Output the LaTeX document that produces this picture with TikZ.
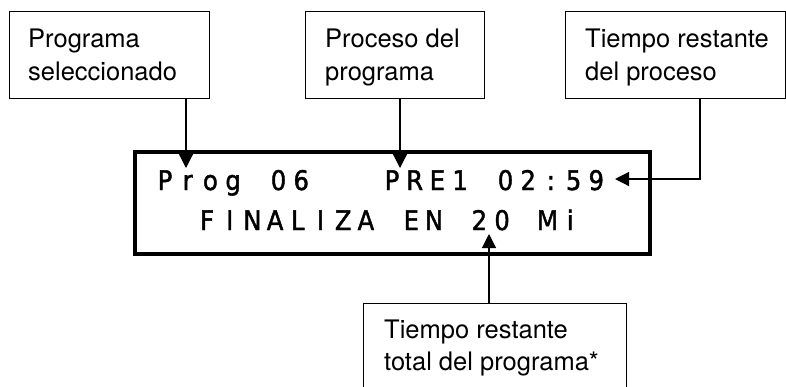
\documentclass[tikz,border=0pt]{standalone}
\usepackage{fontspec}
\setmainfont{TeX Gyre Heros}
\newfontfamily\lcdfont{DejaVu Sans Condensed}[FakeBold=1.6]
\usetikzlibrary{arrows.meta}
\begin{document}
\begin{tikzpicture}[x=1pt,y=-1pt,
  lbl/.style={draw, line width=1.2pt, inner sep=0pt, anchor=north west},
  lbltxt/.style={anchor=base west, inner sep=0pt, font=\fontsize{25.5}{30}\selectfont},
  lcd/.style={anchor=base, inner sep=0pt, font=\lcdfont\fontsize{27}{30}\selectfont},
  disp/.style={draw, line width=4.3pt, inner sep=0pt, anchor=north west},
  arr/.style={line width=1.2pt, -{Triangle[width=14pt,length=14pt]}}]
\useasboundingbox (0,0) rectangle (786,386);
\clip (0,0) rectangle (786,386);
% label boxes
\node[lbl, minimum width=200pt, minimum height=87pt] (b1) at (9,11) {};
\node[lbl, minimum width=179pt, minimum height=87pt] (b2) at (305,11) {};
\node[lbl, minimum width=220pt, minimum height=87pt] (b3) at (565,11) {};
\node[lbl, minimum width=263pt, minimum height=110pt] (b4) at (363,303) {};
% label texts
\node[lbltxt] (t1a) at (28,47) {Programa};
\node[lbltxt] (t1b) at (28,80) {seleccionado};
\node[lbltxt] (t2a) at (325,47) {Proceso del};
\node[lbltxt] (t2b) at (325,80) {programa};
\node[lbltxt] (t3a) at (585,47) {Tiempo restante};
\node[lbltxt] (t3b) at (585,80) {del proceso};
\node[lbltxt] (t4a) at (384,338) {Tiempo restante};
\node[lbltxt] (t4b) at (384,370) {total del programa*};
% display
\node[disp, minimum width=515pt, minimum height=102pt] (dsp) at (132.5,149.5) {};
\foreach \i/\c in {0/P,1/r,2/o,3/g,5/0,6/6,10/P,11/R,12/E,13/1,15/0,16/2,17/:,18/5,19/9}
  \node[lcd] (la\i) at (165+22.7*\i,190) {\c};
\foreach \i/\c in {0/F,1/I,2/N,3/A,4/L,5/I,6/Z,7/A,9/E,10/N,12/2,13/0,15/M,16/i}
  \node[lcd] (lb\i) at (207+22.7*\i,230) {\c};
% connectors
\coordinate (p1) at (186,168);
\coordinate (p2) at (400,168);
\coordinate (k3) at (700,179);
\coordinate (p3) at (615,179);
\coordinate (p4) at (489,234);
\draw[arr] (b1.south -| p1) -- (p1);
\draw[arr] (b2.south -| p2) -- (p2);
\draw[arr] (b3.south -| k3) -- (k3) -- (p3);
\draw[arr] (b4.north -| p4) -- (p4);
\end{tikzpicture}
\end{document}
